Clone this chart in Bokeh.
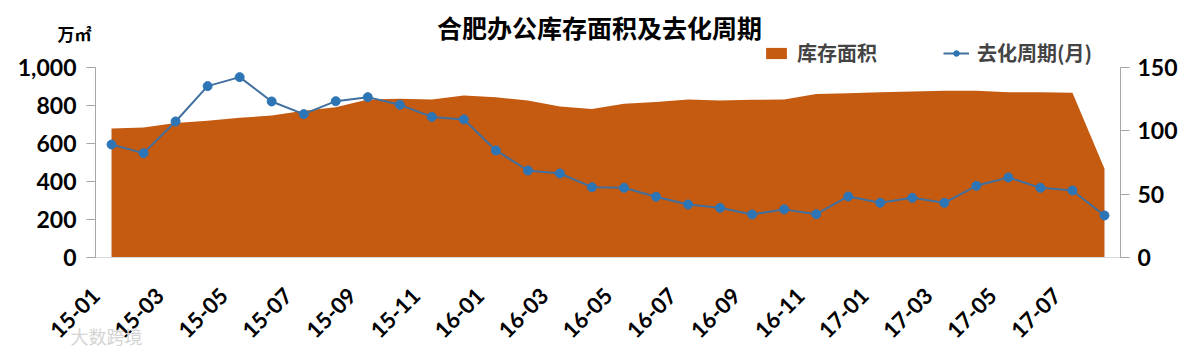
from math import pi
from bokeh.plotting import figure
from bokeh.models import (ColumnDataSource, Range1d, LinearAxis, FixedTicker,
                          NumeralTickFormatter, Legend, LegendItem, Label)
from bokeh.embed import file_html
from bokeh.resources import INLINE

months = ["15-01", "15-02", "15-03", "15-04", "15-05", "15-06", "15-07", "15-08",
          "15-09", "15-10", "15-11", "15-12", "16-01", "16-02", "16-03", "16-04",
          "16-05", "16-06", "16-07", "16-08", "16-09", "16-10", "16-11", "16-12",
          "17-01", "17-02", "17-03", "17-04", "17-05", "17-06", "17-07", "17-08"]
inventory = [679, 684, 708, 720, 735, 747, 773, 791, 831, 836, 831, 853, 844, 826,
             795, 782, 809, 818, 831, 826, 830, 831, 861, 865, 870, 874, 877, 877,
             870, 870, 867, 467]
cycle = [89.2, 82.4, 107.4, 135.3, 142.4, 123.2, 113.2, 123.4, 126.6, 120.6, 111.0,
         109.0, 84.5, 68.7, 66.3, 55.5, 55.0, 48.0, 41.8, 39.2, 34.0, 38.0, 34.2,
         48.2, 43.2, 47.1, 43.2, 56.6, 63.2, 55.0, 52.9, 33.2]
left_ticks = [0, 200, 400, 600, 800, 1000]
right_ticks = [0, 50, 100, 150]

AREA = "#C55A11"
LINE = "#41709F"
MARK = "#2E75B6"
NUMFONT = "Lato"
CJK = "Noto Sans CJK SC"

n = len(months)
W, H = 1181, 347
# plot-area geometry in pixels (the axes are drawn at fixed data locations)
PX_L, PX_R, PX_T, PX_B = 95, 1120, 67, 257
sx = (PX_R - PX_L) / n                      # px per month slot
sy = (PX_B - PX_T) / left_ticks[-1]          # px per left unit
sr = (PX_B - PX_T) / right_ticks[-1]         # px per right unit

src = ColumnDataSource(dict(x=[i + 0.5 for i in range(n)], inv=inventory, cyc=cycle))

p = figure(width=W, height=H, output_backend="svg", toolbar_location=None,
           x_range=Range1d(-PX_L / sx, (W - PX_L) / sx),
           y_range=Range1d(-(H - PX_B) / sy, PX_B / sy), min_border=0)
p.extra_y_ranges = {"cyc": Range1d(-(H - PX_B) / sr, PX_B / sr)}
p.outline_line_color = None
p.grid.visible = False
p.background_fill_color = "white"
p.border_fill_color = "white"

area_r = p.varea(x="x", y1=0, y2="inv", source=src, fill_color=AREA)
line_r = p.line(x="x", y="cyc", source=src, line_color=LINE, line_width=2,
                y_range_name="cyc")
mark_r = p.scatter(x="x", y="cyc", source=src, size=9, fill_color=MARK,
                   line_color=MARK, y_range_name="cyc")

# x axis
xa = p.xaxis[0]
xa.fixed_location = 0
xa.bounds = (0, n)
xa.ticker = FixedTicker(ticks=list(range(0, n, 2)))
xa.major_label_overrides = {i: months[i] for i in range(0, n, 2)}
xa.major_label_orientation = pi / 4
xa.major_label_standoff = 28
xa.axis_line_color = "#D9D9D9"
xa.major_tick_line_color = None
xa.minor_tick_line_color = None
xa.major_label_text_font = NUMFONT
xa.major_label_text_font_style = "bold"
xa.major_label_text_font_size = "22px"
xa.major_label_text_color = "black"

def style_y(ax):
    ax.axis_line_color = "#A6A6A6"
    ax.major_tick_line_color = "#A6A6A6"
    ax.major_tick_out = 9
    ax.major_tick_in = 0
    ax.minor_tick_line_color = None
    ax.major_label_text_font = NUMFONT
    ax.major_label_text_font_style = "bold"
    ax.major_label_text_font_size = "23px"
    ax.major_label_text_color = "black"

ya = p.yaxis[0]
ya.fixed_location = 0
ya.ticker = FixedTicker(ticks=left_ticks)
ya.formatter = NumeralTickFormatter(format="0,0")
ya.bounds = (left_ticks[0], left_ticks[-1])
style_y(ya)
ya.major_label_standoff = 10

ra = LinearAxis(y_range_name="cyc", ticker=FixedTicker(ticks=right_ticks))
ra.fixed_location = n
ra.bounds = (right_ticks[0], right_ticks[-1])
style_y(ra)
ra.major_label_standoff = 8
p.add_layout(ra, "right")

legend = Legend(items=[LegendItem(label="库存面积", renderers=[area_r]),
                       LegendItem(label="去化周期(月)", renderers=[line_r, mark_r])],
                orientation="horizontal", location=(763, 280),
                background_fill_alpha=0, border_line_color=None,
                label_text_font=CJK, label_text_font_style="bold",
                label_text_font_size="20px", glyph_width=26, glyph_height=14,
                spacing=66, label_standoff=8, padding=0, margin=0)
p.add_layout(legend, "center")

title = Label(x=599, y=H - 26, x_units="screen", y_units="screen",
              text="合肥办公库存面积及去化周期", text_font=CJK,
              text_font_style="bold", text_font_size="25px", text_align="center",
              text_baseline="middle", text_color="black")
unit = Label(x=57, y=H - 33, x_units="screen", y_units="screen", text="万㎡",
             text_font=CJK, text_font_style="bold", text_font_size="17px",
             text_baseline="middle", text_color="black")
wm = Label(x=70, y=12, x_units="screen", y_units="screen", text="大数跨境",
           text_font=CJK, text_font_size="18px", text_baseline="middle",
           text_color="#D4D4D4")
p.add_layout(title)
p.add_layout(unit)
p.add_layout(wm)

open("out.html", "w").write(file_html(p, INLINE))
